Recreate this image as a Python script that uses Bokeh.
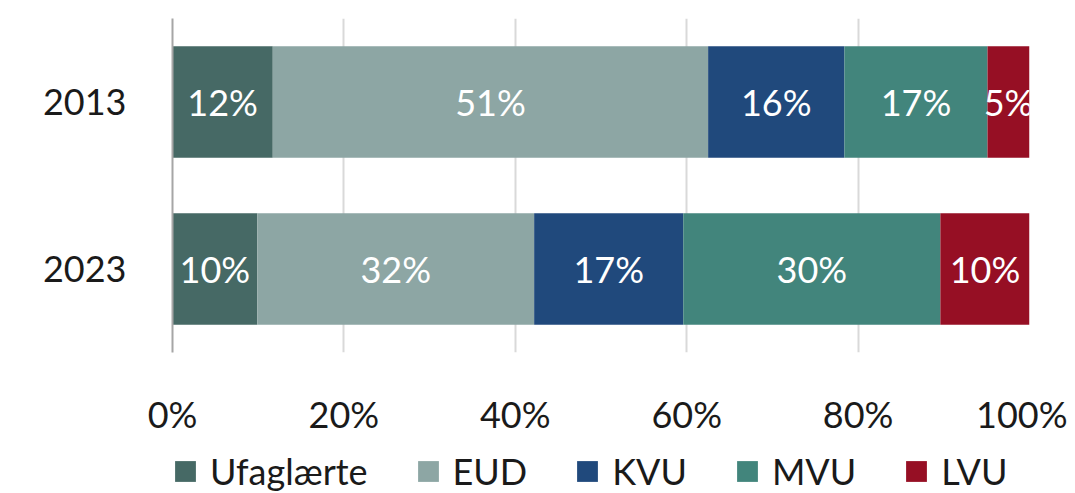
from bokeh.plotting import figure
from bokeh.layouts import column
from bokeh.models import ColumnDataSource, FactorRange, Range1d, Legend, LegendItem, FixedTicker, PrintfTickFormatter
from bokeh.core.properties import value
from bokeh.embed import file_html
from bokeh.resources import INLINE

years = ["2023", "2013"]
series = ["Ufaglærte", "EUD", "KVU", "MVU", "LVU"]
ufaglaerte = [9.9, 11.7]
eud = [32.3, 50.8]
kvu = [17.4, 15.9]
mvu = [30.0, 16.7]
lvu = [10.4, 4.9]
colors = ["#466965", "#8DA6A4", "#20497C", "#42857C", "#960F24"]
x_ticks = [0, 20, 40, 60, 80, 100]

FONT = "Lato"
TXT = "#1a1a1a"

data = {"year": years, "Ufaglærte": ufaglaerte, "EUD": eud, "KVU": kvu, "MVU": mvu, "LVU": lvu}
source = ColumnDataSource(data)

p = figure(width=1067, height=440, y_range=FactorRange(*years, range_padding=0),
           x_range=Range1d(0, 100), output_backend="svg", toolbar_location=None,
           min_border_left=172, min_border_right=38, min_border_top=18, min_border_bottom=88)

renderers = p.hbar_stack(series, y="year", height=0.667, color=colors, source=source, line_width=0)

# value labels centred in each segment
lx, ly, lt = [], [], []
for i, yr in enumerate(years):
    cum = 0
    for s in series:
        v = data[s][i]
        lx.append(cum + v / 2)
        ly.append(yr)
        lt.append(f"{round(v)}%")
        cum += v
p.text(x=lx, y=ly, text=lt, text_color="white", text_align="center", text_baseline="middle",
       text_font=value(FONT), text_font_size="36px")

p.outline_line_color = None
p.ygrid.grid_line_color = None
p.xgrid.grid_line_color = "#D9D9D9"
p.xgrid.grid_line_width = 2
p.xaxis.ticker = FixedTicker(ticks=x_ticks)
p.xaxis.formatter = PrintfTickFormatter(format="%d%%")
p.xaxis.axis_line_color = None
p.xaxis.major_tick_line_color = None
p.xaxis.minor_tick_line_color = None
p.xaxis.major_label_standoff = 33
p.xaxis.major_label_text_font = FONT
p.xaxis.major_label_text_font_size = "36px"
p.xaxis.major_label_text_color = TXT

p.yaxis.axis_line_color = "#A6A6A6"
p.yaxis.axis_line_width = 2
p.yaxis.major_tick_line_color = None
p.yaxis.minor_tick_line_color = None
p.yaxis.major_label_standoff = 40
p.yaxis.major_label_text_font = FONT
p.yaxis.major_label_text_font_size = "36px"
p.yaxis.major_label_text_color = TXT

# legend strip: second figure with zero-height bars, so only the legend shows
p2 = figure(width=1067, height=53, x_range=Range1d(0, 100), y_range=FactorRange(*years),
            output_backend="svg", toolbar_location=None,
            min_border_left=172, min_border_right=38, min_border_top=0, min_border_bottom=0)
p2.xaxis.visible = False
p2.yaxis.visible = False
p2.xgrid.visible = False
p2.ygrid.visible = False
p2.outline_line_color = None
leg_r = p2.hbar_stack(series, y="year", height=0, fill_color=colors, line_color=None,
                      source=source)
items = [LegendItem(label=s, renderers=[r]) for s, r in zip(series, leg_r)]
legend = Legend(items=items, orientation="horizontal", location=(0, 0),
                label_text_font=FONT, label_text_font_size="36px", label_text_color=TXT,
                glyph_width=26, glyph_height=26, spacing=47, padding=0, margin=0,
                border_line_color=None, background_fill_alpha=0, label_standoff=12)
p2.add_layout(legend, "center")

layout = column(p, p2, spacing=0)
open("out.html", "w").write(file_html(layout, INLINE))
